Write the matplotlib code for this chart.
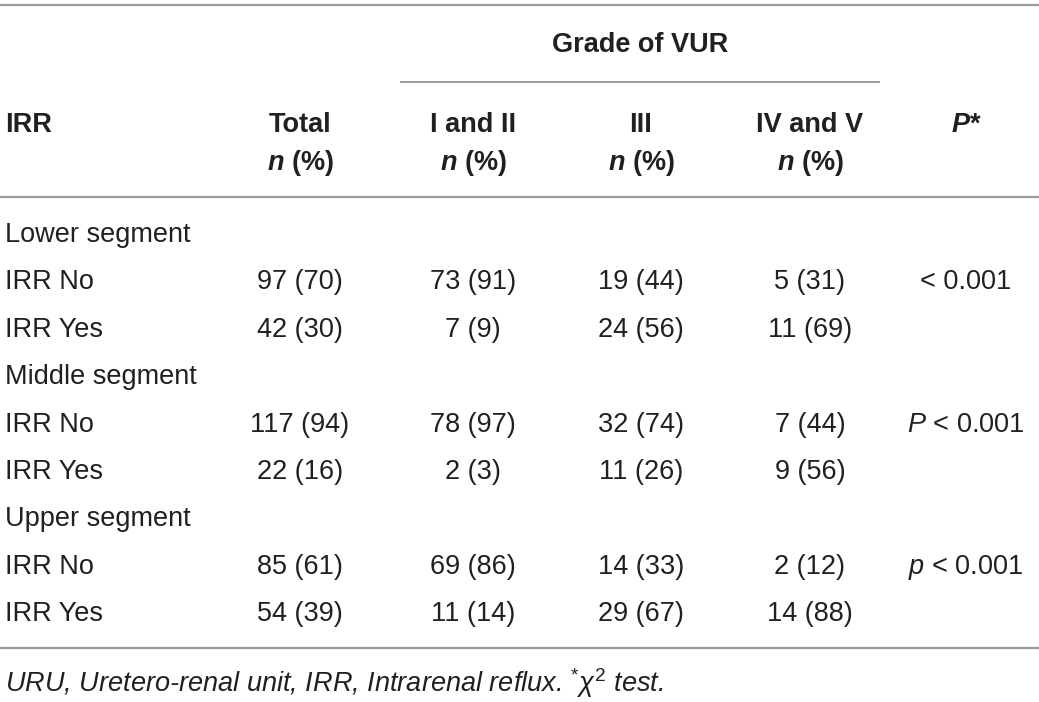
import matplotlib
matplotlib.use("Agg")
import matplotlib.pyplot as plt

plt.rcParams['font.family'] = ['Liberation Sans', 'DejaVu Sans']
plt.rcParams['mathtext.fontset'] = 'custom'
plt.rcParams['mathtext.rm'] = 'Liberation Sans'
plt.rcParams['mathtext.it'] = 'Liberation Sans:italic'
plt.rcParams['mathtext.bf'] = 'Liberation Sans:bold'
plt.rcParams['mathtext.bfit'] = 'Liberation Sans:bold:italic'

# ---- data ----
col_headers = ["Total", "I and II", "III", "IV and V"]
group_header = "Grade of VUR"
segments = ["Lower segment", "Middle segment", "Upper segment"]
row_labels = ["IRR No", "IRR Yes"]
total = [["97 (70)", "42 (30)"], ["117 (94)", "22 (16)"], ["85 (61)", "54 (39)"]]
grade_1_2 = [["73 (91)", "7 (9)"], ["78 (97)", "2 (3)"], ["69 (86)", "11 (14)"]]
grade_3 = [["19 (44)", "24 (56)"], ["32 (74)", "11 (26)"], ["14 (33)", "29 (67)"]]
grade_4_5 = [["5 (31)", "11 (69)"], ["7 (44)", "9 (56)"], ["2 (12)", "14 (88)"]]
p_values = ["< 0.001", r"$\mathit{P}$ < 0.001", r"$\mathit{p}$ < 0.001"]
footnote = r"URU, Uretero-renal unit, IRR, Intrarenal reflux. $^{*}\mathit{\chi}^{2}$ test."

W, H = 1039, 702
fig = plt.figure(figsize=(W / 100, H / 100), dpi=100)
ax = fig.add_axes([0, 0, 1, 1])
ax.set_xlim(0, W)
ax.set_ylim(H, 0)
ax.axis('off')

txt = '#231f20'
line_c = '#9a9a9a'
fs = 19.5

col_x = [300, 473, 641, 810]
p_x = 966

# rules
ax.plot([0, W], [5, 5], color=line_c, lw=1.6, solid_capstyle='butt')
ax.plot([400, 880], [82, 82], color=line_c, lw=1.4, solid_capstyle='butt')
ax.plot([0, W], [197, 197], color=line_c, lw=1.6, solid_capstyle='butt')
ax.plot([0, W], [648, 648], color=line_c, lw=1.6, solid_capstyle='butt')

# header
ax.text(640, 52, group_header, ha='center', va='baseline', fontsize=fs, weight='bold', color=txt)
ax.text(5, 132, "IRR", ha='left', va='baseline', fontsize=fs, weight='bold', color=txt)
for x, h in zip(col_x, col_headers):
    ax.text(x, 132, h, ha='center', va='baseline', fontsize=fs, weight='bold', color=txt)
    ax.text(x, 170, r"$\mathbfit{n}$ (%)", ha='center', va='baseline', fontsize=fs, weight='bold', color=txt)
ax.text(p_x, 132, r"$\mathbfit{P}$*", ha='center', va='baseline', fontsize=fs, weight='bold', color=txt)

# body
row_h = 47.4
y = 242
for s, seg in enumerate(segments):
    ax.text(5, y, seg, ha='left', va='baseline', fontsize=fs, color=txt)
    y += row_h
    for r, lab in enumerate(row_labels):
        ax.text(5, y, lab, ha='left', va='baseline', fontsize=fs, color=txt)
        vals = [total[s][r], grade_1_2[s][r], grade_3[s][r], grade_4_5[s][r]]
        for x, v in zip(col_x, vals):
            ax.text(x, y, v, ha='center', va='baseline', fontsize=fs, color=txt)
        if r == 0:
            ax.text(p_x, y, p_values[s], ha='center', va='baseline', fontsize=fs, color=txt)
        y += row_h

ax.text(5, 692, footnote, ha='left', va='baseline', fontsize=fs, style='italic', color=txt)

fig.savefig("out.png", dpi=100)
